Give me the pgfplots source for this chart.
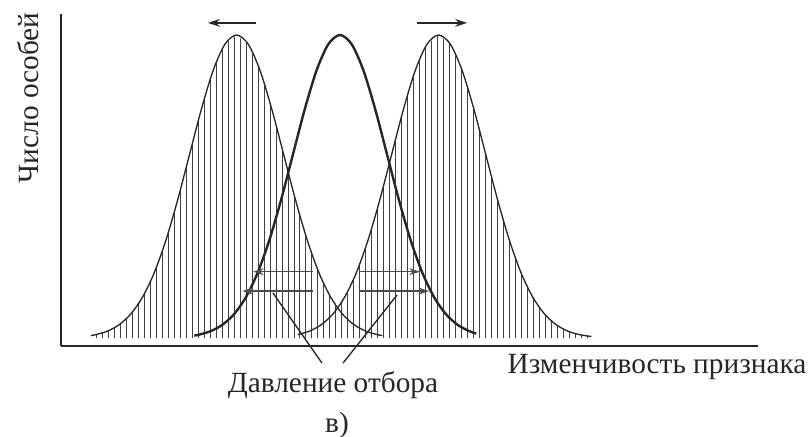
\documentclass[border=0pt]{standalone}
\usepackage{fontspec}
\setmainfont{Liberation Serif}
\usepackage{pgfplots}
\pgfplotsset{compat=1.18}
\usetikzlibrary{patterns.meta, arrows.meta}
\definecolor{ink}{HTML}{262626}
\begin{document}
\begin{tikzpicture}[font=\fontsize{11}{13}\selectfont]
\begin{axis}[
  name=ax, scale only axis, width=261.4pt, height=124.5pt,
  xmin=-5.94, xmax=8.89, ymin=-2.64, ymax=106.9,
  axis lines=left, axis line style={-, line width=0.75pt, ink},
  xtick=\empty, ytick=\empty, clip=false]
% hatched fills (left and right populations)
\addplot[draw=none, pattern={Lines[angle=90,distance=2.25pt,line width=0.35pt]}, pattern color=black!75]
 coordinates {(-5.3,0) (-5.3,0.82) (-5.2,1.11) (-4.95,2.28) (-4.7,4.39) (-4.45,7.96) (-4.2,13.53) (-3.95,21.62)
 (-3.7,32.47) (-3.45,45.79) (-3.2,60.65) (-2.95,75.48) (-2.7,88.25) (-2.45,96.92) (-2.2,100)
 (-1.95,96.92) (-1.7,88.25) (-1.45,75.48) (-1.2,60.65) (-0.95,45.79) (-0.7,32.47) (-0.45,21.62)
 (-0.2,13.53) (0.05,7.96) (0.3,4.39) (0.55,2.28) (0.8,1.11) (0.9,0.82) (0.9,0)} --cycle;
\addplot[draw=none, pattern={Lines[angle=90,distance=2.25pt,line width=0.35pt]}, pattern color=black!75]
 coordinates {(-0.9,0) (-0.9,1.11) (-0.65,2.28) (-0.4,4.39) (-0.15,7.96) (0.1,13.53) (0.35,21.62) (0.6,32.47)
 (0.85,45.79) (1.1,60.65) (1.35,75.48) (1.6,88.25) (1.85,96.92) (2.1,100) (2.35,96.92) (2.6,88.25)
 (2.85,75.48) (3.1,60.65) (3.35,45.79) (3.6,32.47) (3.85,21.62) (4.1,13.53) (4.35,7.96) (4.6,4.39)
 (4.85,2.28) (5.1,1.11) (5.35,0.51) (5.35,0)} --cycle;
% outlines
\addplot[ink, line width=0.5pt, smooth] coordinates {(-5.3,0.82) (-5.2,1.11) (-4.95,2.28) (-4.7,4.39) (-4.45,7.96) (-4.2,13.53) (-3.95,21.62)
 (-3.7,32.47) (-3.45,45.79) (-3.2,60.65) (-2.95,75.48) (-2.7,88.25) (-2.45,96.92) (-2.2,100)
 (-1.95,96.92) (-1.7,88.25) (-1.45,75.48) (-1.2,60.65) (-0.95,45.79) (-0.7,32.47) (-0.45,21.62)
 (-0.2,13.53) (0.05,7.96) (0.3,4.39) (0.55,2.28) (0.8,1.11) (0.9,0.82)};
\addplot[ink, line width=0.5pt, smooth] coordinates {(-0.9,1.11) (-0.65,2.28) (-0.4,4.39) (-0.15,7.96) (0.1,13.53) (0.35,21.62) (0.6,32.47)
 (0.85,45.79) (1.1,60.65) (1.35,75.48) (1.6,88.25) (1.85,96.92) (2.1,100) (2.35,96.92) (2.6,88.25)
 (2.85,75.48) (3.1,60.65) (3.35,45.79) (3.6,32.47) (3.85,21.62) (4.1,13.53) (4.35,7.96) (4.6,4.39)
 (4.85,2.28) (5.1,1.11) (5.35,0.51)};
% middle population (bold)
\addplot[ink, line width=0.9pt, smooth] coordinates {(-3.1,0.82) (-3.0,1.11) (-2.75,2.28) (-2.5,4.39) (-2.25,7.96) (-2.0,13.53) (-1.75,21.62)
 (-1.5,32.47) (-1.25,45.79) (-1.0,60.65) (-0.75,75.48) (-0.5,88.25) (-0.25,96.92) (0,100)
 (0.25,96.92) (0.5,88.25) (0.75,75.48) (1.0,60.65) (1.25,45.79) (1.5,32.47) (1.75,21.62)
 (2.0,13.53) (2.25,7.96) (2.5,4.39) (2.75,2.28) (2.9,1.49)};
% arrows
\draw[ink, line width=0.6pt, -{Stealth[length=4.5pt,width=3pt]}] (axis cs:-1.787,104) -- (axis cs:-2.809,104);
\draw[ink, line width=0.6pt, -{Stealth[length=4.5pt,width=3pt]}] (axis cs:1.638,104) -- (axis cs:2.702,104);
\draw[black!70, line width=0.5pt, -{Stealth[length=4pt,width=2.6pt]}] (axis cs:-0.574,21.9) -- (axis cs:-1.85,21.9);
\draw[black!70, line width=0.5pt, -{Stealth[length=4pt,width=2.6pt]}] (axis cs:-0.574,15.5) -- (axis cs:-2.08,15.5);
\draw[black!70, line width=0.5pt, -{Stealth[length=4pt,width=2.6pt]}] (axis cs:0.404,21.9) -- (axis cs:1.70,21.9);
\draw[black!70, line width=0.5pt, -{Stealth[length=4pt,width=2.6pt]}] (axis cs:0.404,15.5) -- (axis cs:1.90,15.5);
% pointer lines
\draw[ink, line width=0.5pt] (axis cs:-1.426,14.85) -- (axis cs:-0.383,-8.25);
\draw[ink, line width=0.5pt] (axis cs:1.213,14.19) -- (axis cs:0.064,-8.25);
% labels
\node[ink, rotate=90] at (axis cs:-6.638,79.2) {Число особей};
\node[ink] at (axis cs:6.745,-9.57) {Изменчивость признака};
\node[ink] at (axis cs:-0.149,-15.5) {Давление отбора};
\node[ink] at (axis cs:-0.064,-28.7) {в)};
\coordinate (BL) at (axis cs:-7.234,-32.34);
\coordinate (TR) at (axis cs:10.043,111.55);
\end{axis}
\pgfresetboundingbox
\path[use as bounding box] (BL) rectangle (TR);
\end{tikzpicture}
\end{document}
